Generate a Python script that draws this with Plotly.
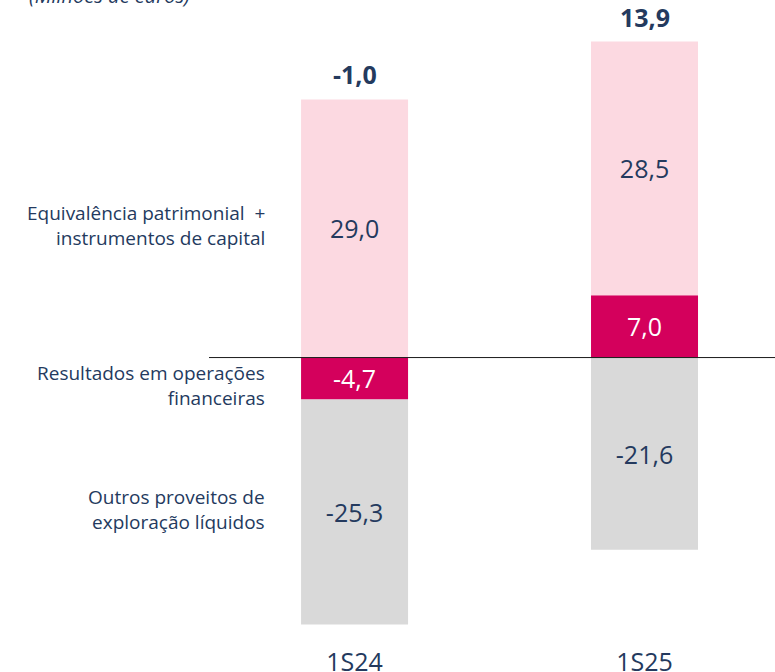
import plotly.graph_objects as go

# Periods and component values (million euros)
periods = ["1S24", "1S25"]
financeiras = [-4.7, 7.0]
equivalencia = [29.0, 28.5]
outros = [-25.3, -21.6]
totais = [-1.0, 13.9]

row_labels = [
    "Equivalência patrimonial  +<br>instrumentos de capital",
    "Resultados em operações<br>financeiras",
    "Outros proveitos de<br>exploração líquidos",
]
row_label_y = [14.8, -3.15, -17.1]

NAVY = "#243a5e"
PINK = "#fcd9e1"
MAGENTA = "#d4005c"
GREY = "#d9d9d9"
FONT = "Open Sans"

fig = go.Figure()

def add_series(name, values, color, text_color):
    fig.add_trace(go.Bar(
        name=name, x=periods, y=values,
        marker=dict(color=color, line=dict(width=0)),
        width=0.369,
        texttemplate="%{y:.1f}",
        textposition="inside",
        insidetextanchor="middle",
        textangle=0,
        textfont=dict(family=FONT, size=25, color=text_color),
        hoverinfo="skip",
    ))

# order matters for relative stacking: financial results sit next to zero
add_series("Resultados em operações financeiras", financeiras, MAGENTA, "white")
add_series("Equivalência patrimonial + instrumentos de capital", equivalencia, PINK, NAVY)
add_series("Outros proveitos de exploração líquidos", outros, GREY, NAVY)

# totals above the positive stack
for i, p in enumerate(periods):
    top = sum(v for v in (financeiras[i], equivalencia[i], outros[i]) if v > 0)
    fig.add_annotation(
        x=p, y=top, yanchor="bottom", yshift=6, showarrow=False,
        text="<b>" + f"{totais[i]:.1f}".replace(".", ",") + "</b>",
        font=dict(family=FONT, size=25, color=NAVY),
    )

# row labels on the left
for txt, yv in zip(row_labels, row_label_y):
    fig.add_annotation(
        xref="paper", x=0, xanchor="right", xshift=58,
        y=yv, yanchor="middle", showarrow=False, align="right",
        text=txt, font=dict(family=FONT, size=19, color=NAVY),
    )

fig.add_annotation(
    xref="paper", yref="paper", x=-0.3216, y=1, xanchor="left", yanchor="bottom",
    yshift=-11, showarrow=False, text="<i>(Milhões de euros)</i>",
    font=dict(family=FONT, size=20, color=NAVY),
)

# zero baseline, drawn over the bars
fig.add_shape(type="line", xref="paper", x0=0, x1=1, y0=0, y1=0,
              line=dict(color="#1a1a1a", width=1), layer="above")

fig.update_layout(
    width=775, height=672,
    barmode="relative",
    separators=",.",
    showlegend=False,
    plot_bgcolor="white", paper_bgcolor="white",
    margin=dict(l=209, r=0, t=0, b=42),
    xaxis=dict(range=[-0.502, 1.45], showgrid=False, zeroline=False,
               showline=False, ticks="", ticklabelstandoff=15, automargin=False,
               tickfont=dict(family=FONT, size=25, color=NAVY)),
    yaxis=dict(range=[-30.61, 40.17], visible=False, showgrid=False,
               zeroline=False, automargin=False),
    uniformtext=dict(mode="show", minsize=10),
)

fig.write_html("out.html")
